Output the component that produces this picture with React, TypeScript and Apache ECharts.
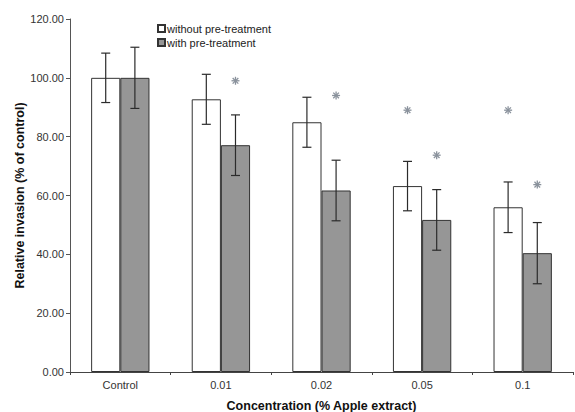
import React, { useEffect, useRef } from "react";
import * as echarts from "echarts";

const categories = ["Control", "0.01", "0.02", "0.05", "0.1"];
const withoutValues = [100, 92.7, 84.9, 63.2, 56.0];
const withoutErrors = [8.4, 8.5, 8.5, 8.4, 8.6];
const withValues = [100, 77.1, 61.7, 51.7, 40.4];
const withErrors = [10.4, 10.3, 10.3, 10.3, 10.4];
// asterisk heights (null = no asterisk)
const starWithout: (number | null)[] = [null, null, null, 89, 89];
const starWith: (number | null)[] = [null, 99, 94, 73.7, 63.7];
const yTicks = { min: 0, max: 120, interval: 20 };

const FONT = "'Liberation Sans', Arial, Helvetica, sans-serif";
const BAR_FRAC = 0.145; // offset of each bar center from band center as fraction of band

function errorSeries(values: number[], errors: number[], sign: number, name: string) {
  return {
    type: "custom",
    name,
    silent: true,
    z: 10,
    data: values.map((v, i) => [i, v, errors[i]]),
    renderItem: (params: any, api: any) => {
      const idx = api.value(0);
      const v = api.value(1);
      const e = api.value(2);
      const band = api.size([1, 0])[0];
      const hi = api.coord([idx, v + e]);
      const lo = api.coord([idx, v - e]);
      const x = hi[0] + sign * band * BAR_FRAC;
      const cap = 4.5;
      const style = { stroke: "#2b2b2b", lineWidth: 1.2 };
      return {
        type: "group",
        children: [
          { type: "line", shape: { x1: x, y1: hi[1], x2: x, y2: lo[1] }, style },
          { type: "line", shape: { x1: x - cap, y1: hi[1], x2: x + cap, y2: hi[1] }, style },
          { type: "line", shape: { x1: x - cap, y1: lo[1], x2: x + cap, y2: lo[1] }, style },
        ],
      };
    },
  };
}

function starSeries(values: (number | null)[], sign: number, name: string) {
  return {
    type: "custom",
    name,
    silent: true,
    z: 10,
    data: values
      .map((v, i) => (v == null ? null : [i, v]))
      .filter((d) => d != null),
    renderItem: (params: any, api: any) => {
      const idx = api.value(0);
      const v = api.value(1);
      const band = api.size([1, 0])[0];
      const c = api.coord([idx, v]);
      const x = c[0] + sign * band * BAR_FRAC;
      const y = c[1];
      const r = 4;
      const style = { stroke: "#8a929c", lineWidth: 1.3 };
      const children: any[] = [];
      for (let k = 0; k < 4; k++) {
        const a = (Math.PI / 4) * k;
        const dx = Math.cos(a) * r;
        const dy = Math.sin(a) * r;
        children.push({
          type: "line",
          shape: { x1: x - dx, y1: y - dy, x2: x + dx, y2: y + dy },
          style,
        });
      }
      return { type: "group", children };
    },
  };
}

export default function App() {
  const ref = useRef<HTMLDivElement>(null);
  useEffect(() => {
    if (!ref.current) return;
    const chart = echarts.init(ref.current, null, { renderer: "svg" });
    chart.setOption({
      animation: false,
      backgroundColor: "#ffffff",
      textStyle: { fontFamily: FONT },
      grid: {
        left: 70,
        right: 2,
        top: 19,
        bottom: 40,
        containLabel: false,
        outerBoundsMode: "none",
      },
      legend: {
        orient: "vertical",
        left: 152,
        top: 18,
        itemWidth: 7,
        itemHeight: 7,
        itemGap: 3,
        icon: "rect",
        data: ["without pre-treatment", "with pre-treatment"],
        textStyle: { fontSize: 11, color: "#222", fontFamily: FONT, padding: [0, 0, 0, -3] },
        selectedMode: false,
      },
      xAxis: {
        type: "category",
        data: categories,
        name: "Concentration (% Apple extract)",
        nameLocation: "middle",
        nameGap: 27,
        nameMoveOverlap: false,
        nameTextStyle: { fontSize: 12.5, fontWeight: "bold", color: "#111", fontFamily: FONT },
        axisLine: { lineStyle: { color: "#444", width: 1 } },
        axisTick: { show: true, length: 3, lineStyle: { color: "#444" } },
        axisLabel: { fontSize: 11, color: "#333", margin: 7, fontFamily: FONT },
      },
      yAxis: {
        type: "value",
        min: yTicks.min,
        max: yTicks.max,
        interval: yTicks.interval,
        name: "Relative invasion (% of control)",
        nameLocation: "middle",
        nameGap: 44,
        nameMoveOverlap: false,
        nameTextStyle: { fontSize: 12.5, fontWeight: "bold", color: "#111", fontFamily: FONT },
        axisLine: { show: true, lineStyle: { color: "#555", width: 1 } },
        axisTick: { show: true, length: 4, lineStyle: { color: "#555" } },
        axisLabel: {
          fontSize: 11,
          color: "#333",
          margin: 6,
          fontFamily: FONT,
          formatter: (v: number) => v.toFixed(2),
        },
        splitLine: { show: false },
      },
      series: [
        {
          type: "bar",
          name: "without pre-treatment",
          data: withoutValues,
          barGap: "0%",
          barCategoryGap: "42%",
          itemStyle: { color: "#ffffff", borderColor: "#333", borderWidth: 1 },
        },
        {
          type: "bar",
          name: "with pre-treatment",
          data: withValues,
          barGap: "0%",
          barCategoryGap: "42%",
          itemStyle: { color: "#969696", borderColor: "#333", borderWidth: 1 },
        },
        errorSeries(withoutValues, withoutErrors, -1, "errWithout"),
        errorSeries(withValues, withErrors, 1, "errWith"),
        starSeries(starWithout, -1, "starWithout"),
        starSeries(starWith, 1, "starWith"),
      ],
    });
    return () => chart.dispose();
  }, []);
  return (
    <div
      ref={ref}
      style={{ position: "absolute", left: 0, top: 0, width: 575, height: 412 }}
    />
  );
}
